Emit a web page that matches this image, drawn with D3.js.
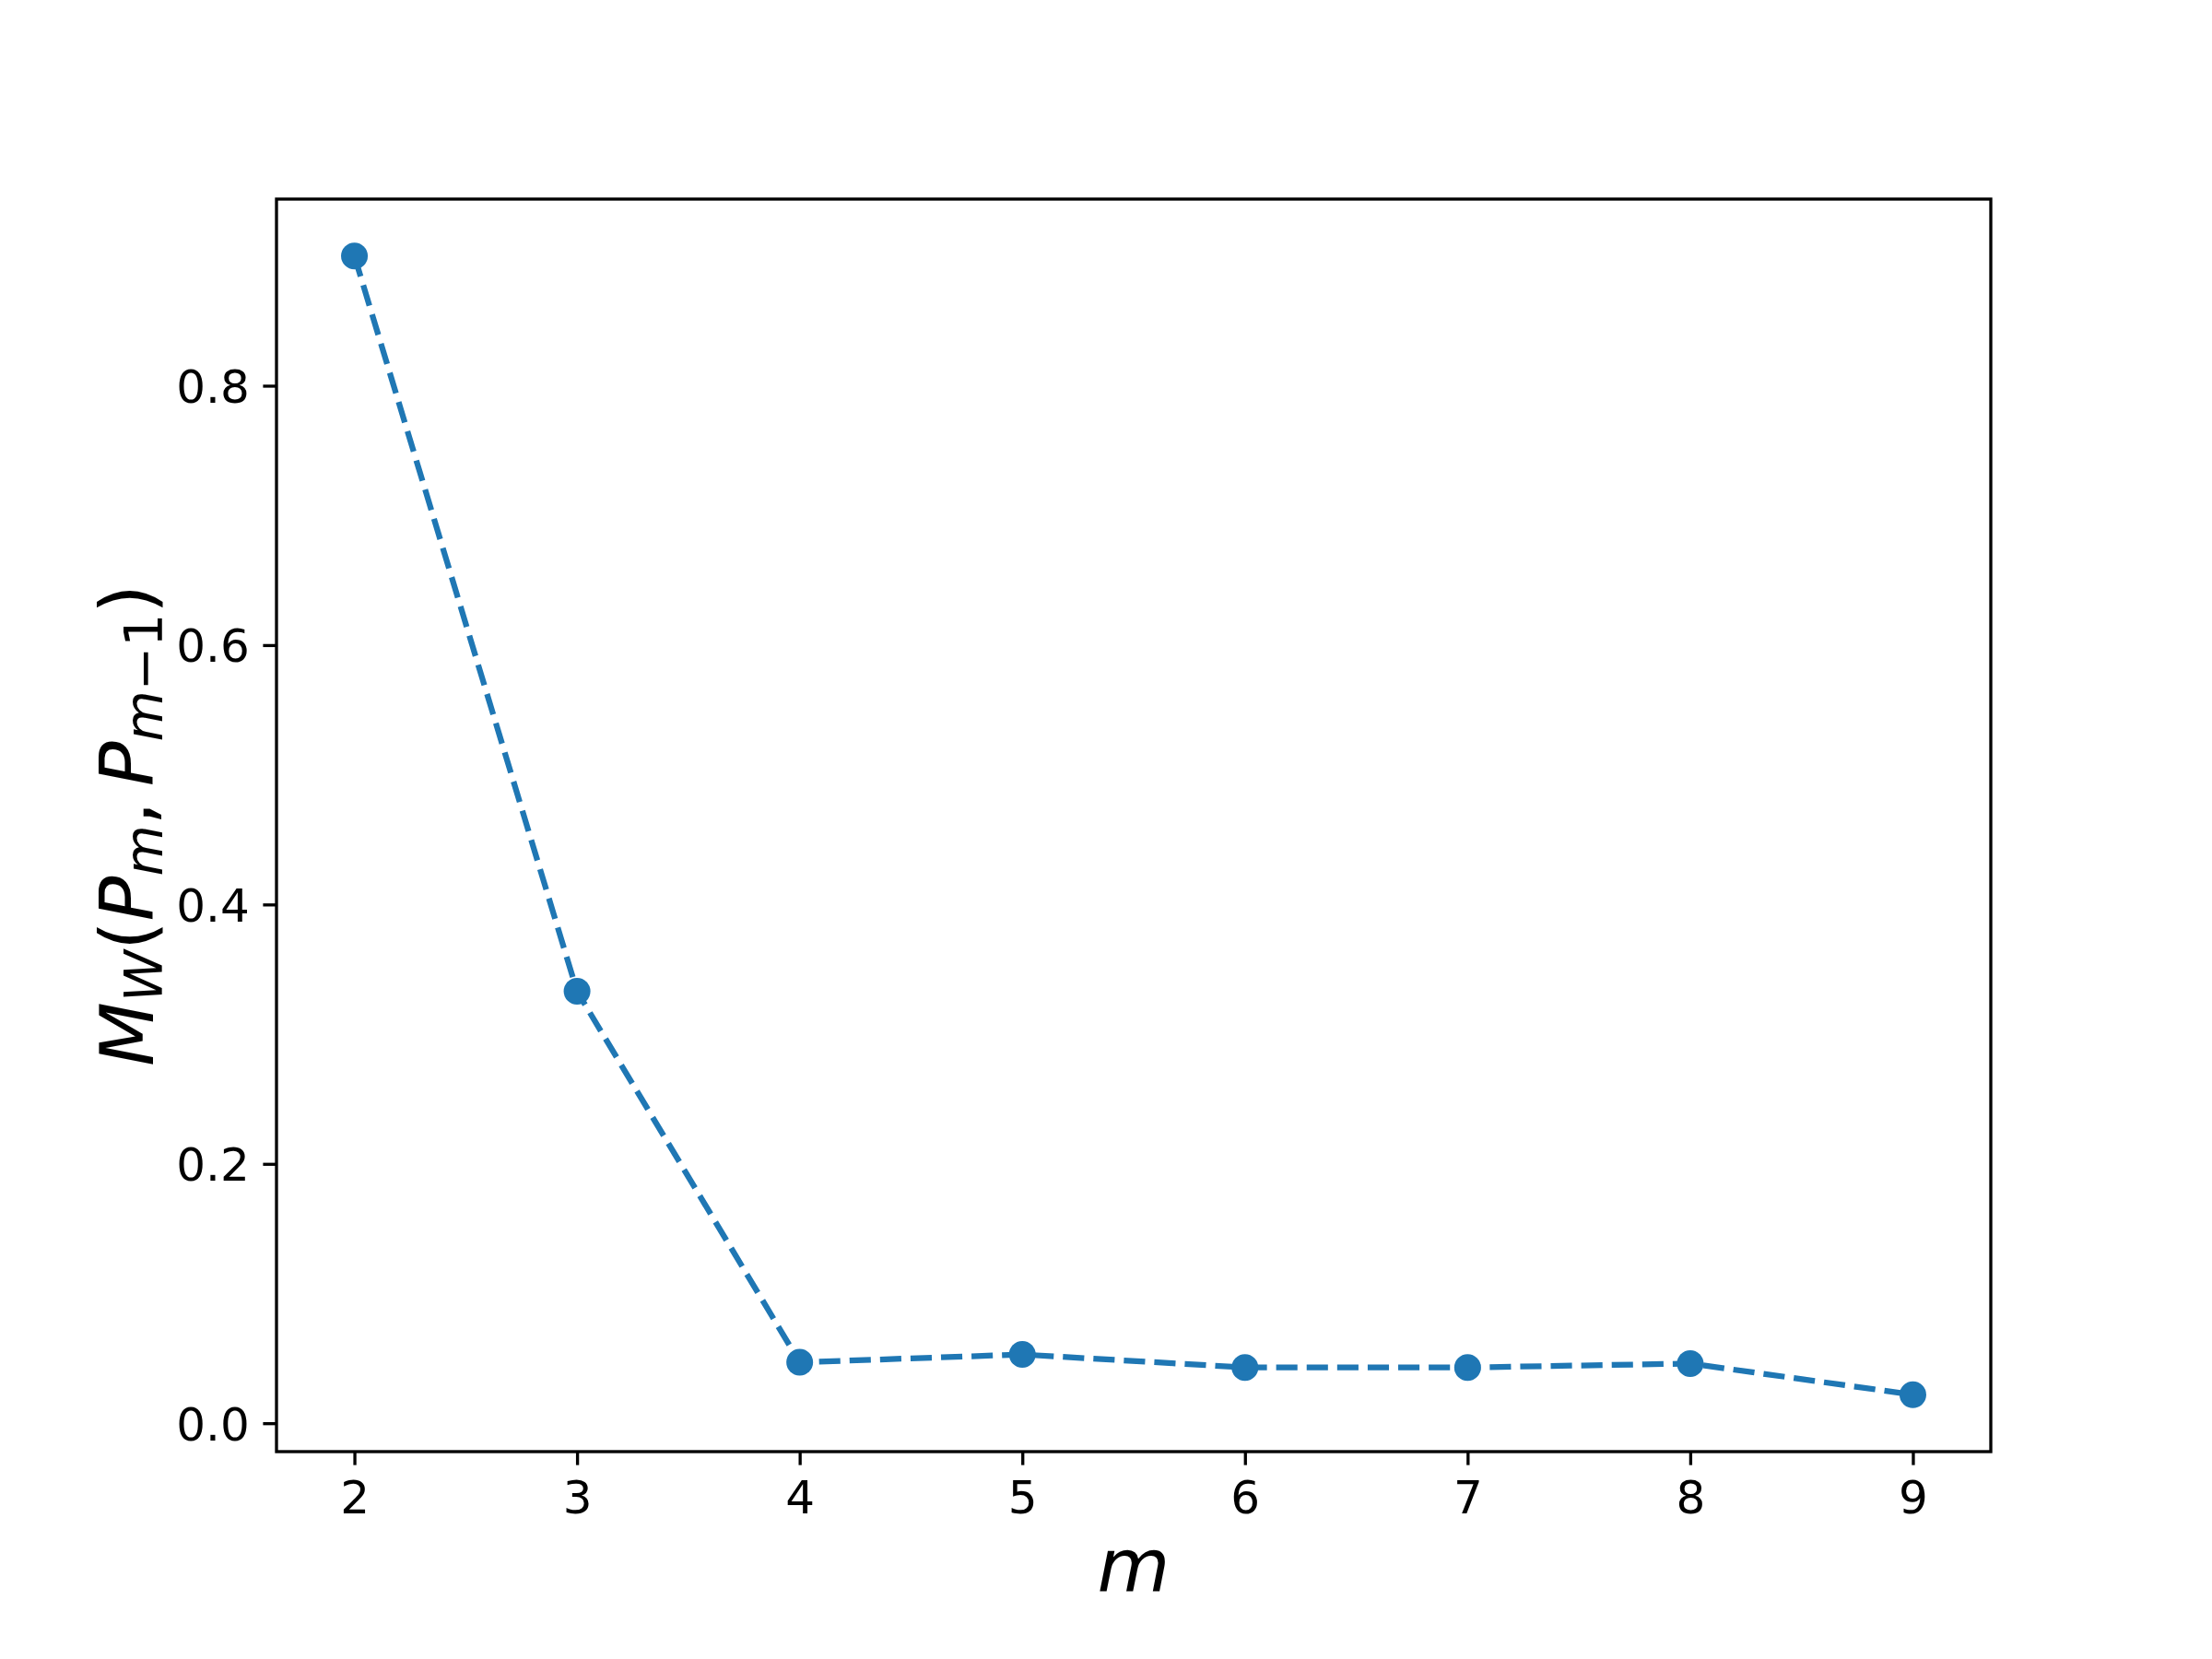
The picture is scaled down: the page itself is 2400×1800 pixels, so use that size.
<!DOCTYPE html>
<html>
<head>
<meta charset="utf-8">
<script src="https://cdn.jsdelivr.net/npm/d3@7"></script>
<style>
  html, body { margin: 0; padding: 0; background: #ffffff; }
  svg { display: block; }
</style>
</head>
<body>
<script>
// ---- data ----
const mValues = [2, 3, 4, 5, 6, 7, 8, 9];
const mwValues = [0.900, 0.333, 0.047, 0.053, 0.043, 0.043, 0.046, 0.022];
const xTickValues = [2, 3, 4, 5, 6, 7, 8, 9];
const yTickValues = [0.0, 0.2, 0.4, 0.6, 0.8];
const xLabelText = "m";

// ---- layout ----
const W = 2400, H = 1800;
const axLeft = 300, axRight = 2160, axTop = 216, axBottom = 1575;
const color = "#1f77b4";
const tickFont = 50;
const labelFont = 81;
const tickLen = 14.6, tickPad = 14.6;

const svg = d3.select("body").append("svg")
  .attr("width", W).attr("height", H)
  .attr("viewBox", `0 0 ${W} ${H}`)
  .style("font-family", "'DejaVu Sans', sans-serif");

svg.append("rect").attr("width", W).attr("height", H).attr("fill", "#fff");

// matplotlib-like 5% margins
function padded(ext) {
  const r = ext[1] - ext[0];
  return [ext[0] - 0.05 * r, ext[1] + 0.05 * r];
}
const x = d3.scaleLinear().domain(padded(d3.extent(mValues))).range([axLeft, axRight]);
const y = d3.scaleLinear().domain(padded(d3.extent(mwValues))).range([axBottom, axTop]);

const data = mValues.map((m, i) => ({ m, v: mwValues[i] }));

// line
svg.append("path")
  .datum(data)
  .attr("fill", "none")
  .attr("stroke", color)
  .attr("stroke-width", 6.25)
  .attr("stroke-dasharray", "23.1,10")
  .attr("d", d3.line().x(d => x(d.m)).y(d => y(d.v)));

// markers
svg.append("g").selectAll("circle")
  .data(data).join("circle")
  .attr("cx", d => x(d.m)).attr("cy", d => y(d.v))
  .attr("r", 14.5)
  .attr("fill", color);

// axes
const xAxis = d3.axisBottom(x).tickValues(xTickValues).tickFormat(d3.format("d"))
  .tickSize(tickLen).tickSizeOuter(0).tickPadding(tickPad);
const gx = svg.append("g").attr("transform", `translate(0,${axBottom})`).call(xAxis);
gx.select(".domain").remove();
gx.selectAll(".tick line").attr("stroke", "#000").attr("stroke-width", 3.33);
gx.selectAll(".tick text")
  .attr("font-size", tickFont).attr("font-family", "'DejaVu Sans', sans-serif")
  .attr("fill", "#000").attr("dy", "0.756em");

const yAxis = d3.axisLeft(y).tickValues(yTickValues).tickFormat(d3.format(".1f"))
  .tickSize(tickLen).tickSizeOuter(0).tickPadding(tickPad);
const gy = svg.append("g").attr("transform", `translate(${axLeft},0)`).call(yAxis);
gy.select(".domain").remove();
gy.selectAll(".tick line").attr("stroke", "#000").attr("stroke-width", 3.33);
gy.selectAll(".tick text")
  .attr("font-size", tickFont).attr("font-family", "'DejaVu Sans', sans-serif")
  .attr("fill", "#000").attr("dy", "0.36em");

// frame (spines)
svg.append("rect")
  .attr("x", axLeft).attr("y", axTop)
  .attr("width", axRight - axLeft).attr("height", axBottom - axTop)
  .attr("fill", "none").attr("stroke", "#000").attr("stroke-width", 3.33);

// x label
svg.append("text")
  .attr("x", (axLeft + axRight) / 2).attr("y", 1727)
  .attr("text-anchor", "middle")
  .attr("font-size", labelFont)
  .attr("font-style", "italic")
  .text(xLabelText);

// y label: M_W(P_m, P_{m-1})
const subSize = labelFont * 0.7;
const subShift = 10;
const yl = svg.append("text")
  .attr("transform", `translate(166,${(axTop + axBottom) / 2}) rotate(-90)`)
  .attr("text-anchor", "middle")
  .attr("font-size", labelFont);
yl.append("tspan").attr("font-style", "italic").text("M");
yl.append("tspan").attr("font-style", "italic").attr("font-size", subSize).attr("dy", subShift).text("W");
yl.append("tspan").attr("dy", -subShift).text("(");
yl.append("tspan").attr("font-style", "italic").text("P");
yl.append("tspan").attr("font-style", "italic").attr("font-size", subSize).attr("dy", subShift).text("m");
yl.append("tspan").attr("dy", -subShift).text(",\u2009");
yl.append("tspan").attr("font-style", "italic").text("P");
yl.append("tspan").attr("font-style", "italic").attr("font-size", subSize).attr("dy", subShift).text("m");
yl.append("tspan").attr("font-size", subSize).text("\u2212" + "1");
yl.append("tspan").attr("dy", -subShift).text(")");
</script>
</body>
</html>
